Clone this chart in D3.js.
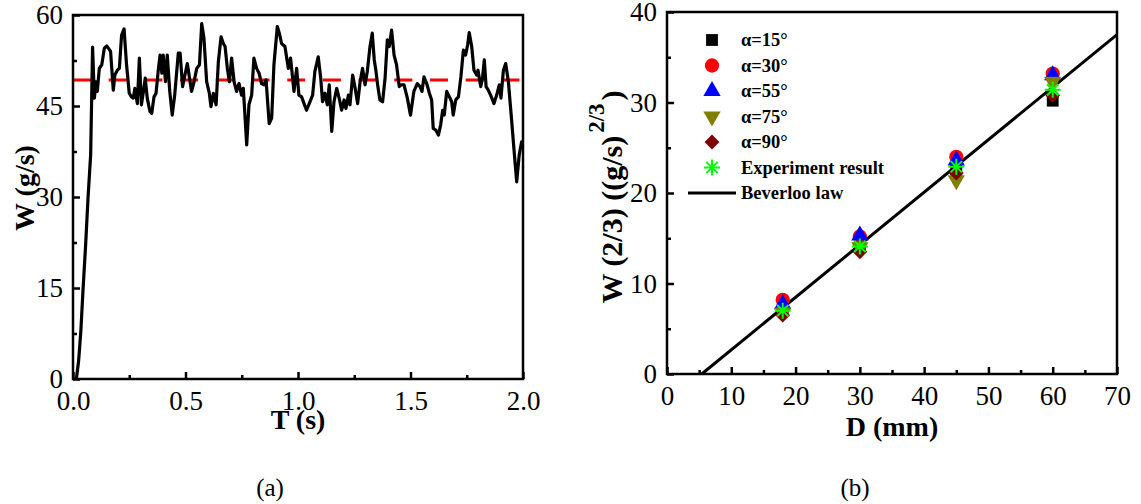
<!DOCTYPE html>
<html lang="en">
<head>
<meta charset="UTF-8">
<script src="https://cdn.jsdelivr.net/npm/d3@7"></script>
<style>
  body { margin: 0; background: #fff; }
  text { font-family: "Liberation Serif", "Times New Roman", serif; }
</style>
</head>
<body>
<svg id="chart" width="1141" height="504"></svg>
<script>
// (a) flow rate vs time
var flowT = [0.015, 0.025, 0.035, 0.045, 0.056, 0.067, 0.0785, 0.087, 0.095, 0.102, 0.108, 0.117, 0.128, 0.139, 0.15, 0.158, 0.167,
  0.179, 0.186, 0.197, 0.206, 0.216, 0.227, 0.238, 0.25, 0.26, 0.268, 0.275, 0.286, 0.295, 0.304, 0.313, 0.321, 0.33, 0.342,
  0.35, 0.36, 0.369, 0.379, 0.387, 0.395, 0.401, 0.411, 0.419, 0.43, 0.441, 0.452, 0.468, 0.476, 0.487, 0.508, 0.527, 0.538,
  0.55, 0.562, 0.572, 0.582, 0.594, 0.606, 0.613, 0.624, 0.636, 0.646, 0.658, 0.668, 0.676, 0.686, 0.695, 0.705, 0.716, 0.727,
  0.738, 0.749, 0.757, 0.772, 0.782, 0.794, 0.804, 0.816, 0.827, 0.838, 0.849, 0.858, 0.872, 0.883, 0.893, 0.908, 0.917, 0.927,
  0.942, 0.957, 0.967, 0.982, 0.994, 1.004, 1.016, 1.027, 1.038, 1.05, 1.065, 1.075, 1.09, 1.101, 1.109, 1.12, 1.13, 1.139,
  1.15, 1.16, 1.172, 1.183, 1.194, 1.205, 1.213, 1.224, 1.231, 1.243, 1.254, 1.265, 1.276, 1.287, 1.298, 1.308, 1.32, 1.33,
  1.339, 1.346, 1.355, 1.364, 1.376, 1.387, 1.397, 1.406, 1.416, 1.427, 1.438, 1.45, 1.46, 1.471, 1.486, 1.5, 1.515, 1.53,
  1.542, 1.551, 1.56, 1.572, 1.584, 1.594, 1.601, 1.613, 1.624, 1.634, 1.643, 1.65, 1.661, 1.673, 1.683, 1.69, 1.701, 1.713,
  1.724, 1.735, 1.745, 1.754, 1.761, 1.772, 1.782, 1.794, 1.8, 1.812, 1.82, 1.828, 1.836, 1.846, 1.856, 1.871, 1.883, 1.895,
  1.902, 1.913, 1.923, 1.935, 1.95, 1.962, 1.972, 1.983, 1.994, 2.0];
var flowW = [0, 3, 8, 15, 22, 30, 37, 54.7, 46.3, 49.0, 47.4, 51.2, 51.8, 54.5, 54.9, 54.5, 54.0,
  47.6, 50.1, 50.9, 51.2, 56.7, 57.7, 51.8, 47.1, 46.5, 46.3, 47.9, 45.4, 52.9, 45.2, 47.4, 49.6, 46.3, 44.1,
  43.8, 46.5, 47.1, 50.9, 53.4, 50.4, 53.4, 49.0, 53.4, 47.4, 43.5, 46.8, 53.7, 53.7, 48.2, 52.0, 47.4, 49.0,
  51.2, 51.8, 58.6, 56.2, 49.0, 47.1, 44.9, 47.1, 45.2, 52.3, 56.4, 55.3, 54.8, 51.2, 49.0, 52.9, 49.0, 47.4,
  48.7, 46.8, 47.9, 38.6, 45.2, 46.8, 52.9, 51.2, 50.4, 48.7, 48.5, 49.3, 42.1, 43.0, 51.8, 58.1, 57.0, 55.3,
  54.8, 51.2, 52.9, 47.4, 51.2, 46.8, 46.5, 45.4, 44.3, 45.4, 46.8, 50.7, 53.1, 49.6, 45.7, 47.1, 45.2, 48.5,
  40.8, 45.7, 47.9, 46.3, 44.3, 46.0, 44.6, 46.8, 45.2, 50.1, 47.9, 45.4, 49.0, 51.2, 48.5, 50.7, 54.8, 57.0,
  52.6, 50.9, 48.2, 46.0, 45.7, 49.6, 55.9, 54.8, 57.5, 53.4, 51.8, 48.2, 48.5, 48.5, 46.3, 43.5, 47.4, 48.7,
  48.2, 47.4, 49.8, 48.7, 47.1, 46.0, 41.3, 41.0, 40.2, 41.9, 44.3, 43.5, 47.4, 46.5, 45.7, 43.5, 46.0, 46.5,
  49.8, 54.2, 53.4, 55.1, 57.1, 54.8, 50.9, 50.1, 50.9, 48.2, 49.6, 52.6, 48.2, 47.6, 46.8, 45.4, 46.8, 48.5,
  46.3, 50.9, 52.0, 49.0, 42.4, 36.9, 32.5, 36.9, 39.1, 39.1];
var meanFlow = 49.3;
var tTicks = [0, 0.5, 1.0, 1.5, 2.0];
var tMinor = [0.25, 0.75, 1.25, 1.75];
var wTicks = [0, 15, 30, 45, 60];
var wMinor = [7.5, 22.5, 37.5, 52.5];

// (b) W^(2/3) vs D
var outletD = [18, 30, 45, 60];
var alpha15 = [7.2, 14.3, 22.6, 30.2];
var alpha30 = [8.2, 15.2, 24.0, 33.2];
var alpha55 = [7.7, 15.3, 23.6, 33.0];
var alpha75 = [6.8, 14.0, 21.4, 32.3];
var alpha90 = [6.5, 13.5, 22.2, 30.8];
var experiment = [7.0, 14.1, 22.9, 31.4];
var beverlooD = [5.4, 70];
var beverlooW = [0, 37.5];
var dTicks = [0, 10, 20, 30, 40, 50, 60, 70];
var dMinor = [5, 15, 25, 35, 45, 55, 65];
var w23Ticks = [0, 10, 20, 30, 40];
var w23Minor = [5, 15, 25, 35];

var svg = d3.select("#chart");

function frame(x, y) {
    svg.append("rect")
        .attr("x", x.range()[0]).attr("y", y.range()[1])
        .attr("width", x.range()[1] - x.range()[0])
        .attr("height", y.range()[0] - y.range()[1])
        .attr("fill", "none").attr("stroke", "#000").attr("stroke-width", 2.5);
}

function axes(x, y, xt, xm, yt, ym, xfmt, yfmt) {
    var yb = y.range()[0], xl = x.range()[0];
    svg.append("g").attr("transform", "translate(0," + yb + ")")
        .call(d3.axisBottom(x).tickValues(xt).tickSize(-7).tickPadding(12).tickFormat(xfmt));
    svg.append("g").attr("transform", "translate(0," + yb + ")")
        .call(d3.axisBottom(x).tickValues(xm).tickSize(-4).tickFormat(""));
    svg.append("g").attr("transform", "translate(" + xl + ",0)")
        .call(d3.axisLeft(y).tickValues(yt).tickSize(-7).tickPadding(10).tickFormat(yfmt));
    svg.append("g").attr("transform", "translate(" + xl + ",0)")
        .call(d3.axisLeft(y).tickValues(ym).tickSize(-4).tickFormat(""));
    svg.selectAll(".domain").remove();
    svg.selectAll(".tick line").attr("stroke-width", 2.5);
    svg.selectAll(".tick text").attr("font-size", 27).attr("fill", "#000");
}

// ---------- (a) ----------
var xa = d3.scaleLinear().domain([0, 2]).range([73, 523]);
var ya = d3.scaleLinear().domain([0, 60]).range([379, 15]);

axes(xa, ya, tTicks, tMinor, wTicks, wMinor, d3.format(".1f"), d3.format("d"));

svg.append("line")
    .attr("x1", xa(0)).attr("x2", xa(2))
    .attr("y1", ya(meanFlow)).attr("y2", ya(meanFlow))
    .attr("stroke", "#ff0000").attr("stroke-width", 3)
    .attr("stroke-dasharray", "18,17.7");

svg.append("path")
    .datum(d3.zip(flowT, flowW))
    .attr("d", d3.line().x(function (d) { return xa(d[0]); }).y(function (d) { return ya(d[1]); }))
    .attr("fill", "none").attr("stroke", "#000").attr("stroke-width", 3.2)
    .attr("stroke-linejoin", "round");

frame(xa, ya);

svg.append("text").attr("x", 298).attr("y", 429).attr("text-anchor", "middle")
    .attr("font-size", 28).attr("font-weight", "bold").text("T (s)");
svg.append("text").attr("transform", "translate(34,188) rotate(-90)").attr("text-anchor", "middle")
    .attr("font-size", 28).attr("font-weight", "bold").text("W (g/s)");
svg.append("text").attr("x", 270).attr("y", 496).attr("text-anchor", "middle")
    .attr("font-size", 25).text("(a)");

// ---------- (b) ----------
var xb = d3.scaleLinear().domain([0, 70]).range([667, 1117]);
var yb = d3.scaleLinear().domain([0, 40]).range([374, 12]);

axes(xb, yb, dTicks, dMinor, w23Ticks, w23Minor, d3.format("d"), d3.format("d"));

svg.append("path")
    .datum(d3.zip(beverlooD, beverlooW))
    .attr("d", d3.line().x(function (d) { return xb(d[0]); }).y(function (d) { return yb(d[1]); }))
    .attr("fill", "none").attr("stroke", "#000").attr("stroke-width", 3);

function asterisk(r) {
    var p = "";
    [0, 45, 90, 135].forEach(function (a) {
        var c = Math.cos(a * Math.PI / 180) * r, s = Math.sin(a * Math.PI / 180) * r;
        p += "M" + (-c) + "," + (-s) + "L" + c + "," + s;
    });
    return p;
}

var series = [
    {name: "\u03b1=15\u00b0", vals: alpha15, color: "#000000", path: d3.symbol().type(d3.symbolSquare).size(140)(), rot: 0},
    {name: "\u03b1=30\u00b0", vals: alpha30, color: "#ff0000", path: d3.symbol().type(d3.symbolCircle).size(160)(), rot: 0},
    {name: "\u03b1=55\u00b0", vals: alpha55, color: "#0000ff", path: d3.symbol().type(d3.symbolTriangle).size(130)(), rot: 0},
    {name: "\u03b1=75\u00b0", vals: alpha75, color: "#808000", path: d3.symbol().type(d3.symbolTriangle).size(130)(), rot: 180},
    {name: "\u03b1=90\u00b0", vals: alpha90, color: "#800000", path: d3.symbol().type(d3.symbolSquare).size(110)(), rot: 45},
    {name: "Experiment result", vals: experiment, color: "#00ff00", path: asterisk(8), rot: 0, stroke: true}
];

series.forEach(function (s) {
    svg.append("g").selectAll("path")
        .data(d3.zip(outletD, s.vals))
        .join("path")
        .attr("transform", function (d) { return "translate(" + xb(d[0]) + "," + yb(d[1]) + ") rotate(" + s.rot + ")"; })
        .attr("d", s.path)
        .attr("fill", s.stroke ? "none" : s.color)
        .attr("stroke", s.stroke ? s.color : "none")
        .attr("stroke-width", 2);
});

frame(xb, yb);

// legend
var lg = svg.append("g");
series.forEach(function (s, i) {
    var ly = 40 + i * 25.5;
    lg.append("path")
        .attr("transform", "translate(712," + ly + ") rotate(" + s.rot + ")")
        .attr("d", s.path)
        .attr("fill", s.stroke ? "none" : s.color)
        .attr("stroke", s.stroke ? s.color : "none")
        .attr("stroke-width", 2);
    lg.append("text").attr("x", 741).attr("y", ly + 6)
        .attr("font-size", 18.5).attr("font-weight", "bold").text(s.name);
});
lg.append("line").attr("x1", 688).attr("x2", 736).attr("y1", 193).attr("y2", 193)
    .attr("stroke", "#000").attr("stroke-width", 3);
lg.append("text").attr("x", 741).attr("y", 199)
    .attr("font-size", 18.5).attr("font-weight", "bold").text("Beverloo law");

svg.append("text").attr("x", 892).attr("y", 436).attr("text-anchor", "middle")
    .attr("font-size", 28).attr("font-weight", "bold").text("D (mm)");

var yt = svg.append("text").attr("transform", "translate(622,197) rotate(-90)").attr("text-anchor", "middle")
    .attr("font-size", 30).attr("font-weight", "bold");
yt.append("tspan").text("W (2/3) ((g/s)");
yt.append("tspan").attr("dx", 3).attr("dy", -18).attr("font-size", 23).text("2/3");
yt.append("tspan").attr("dx", 3).attr("dy", 18).text(")");

svg.append("text").attr("x", 855).attr("y", 496).attr("text-anchor", "middle")
    .attr("font-size", 25).text("(b)");
</script>
</body>
</html>
